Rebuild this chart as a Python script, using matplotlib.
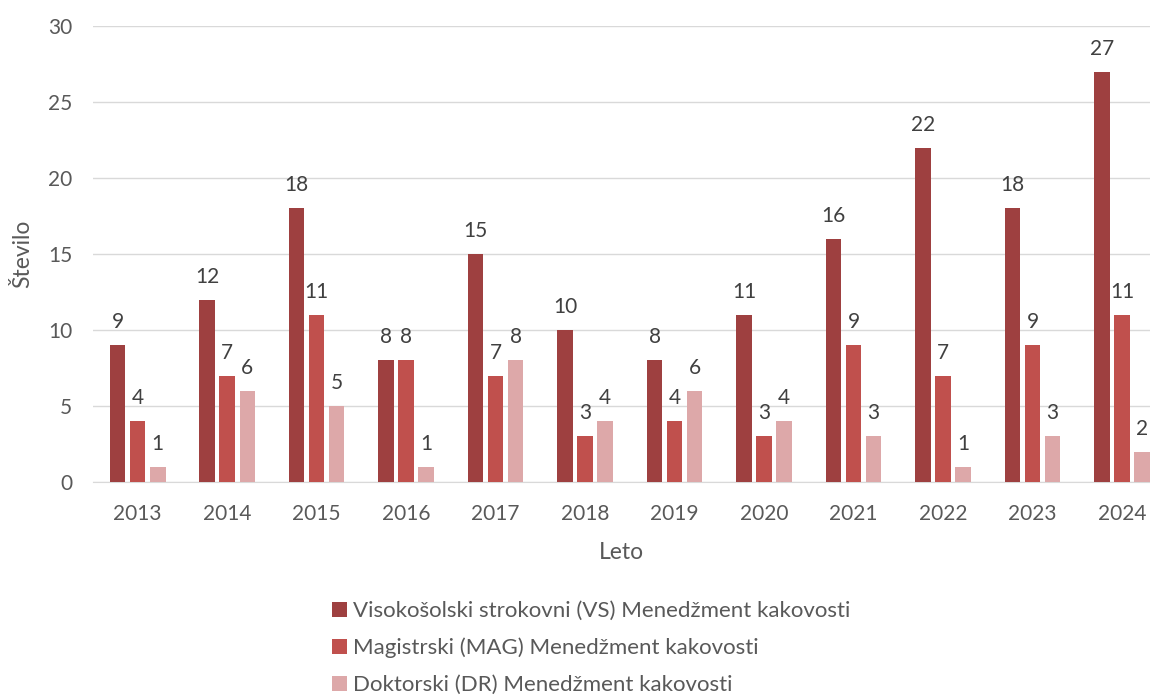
import numpy as np
import matplotlib.pyplot as plt

plt.rcParams['font.family'] = ['Lato', 'DejaVu Sans']

years = ['2013', '2014', '2015', '2016', '2017', '2018',
         '2019', '2020', '2021', '2022', '2023', '2024']
vs = [9, 12, 18, 8, 15, 10, 8, 11, 16, 22, 18, 27]
mag = [4, 7, 11, 8, 7, 3, 4, 3, 9, 7, 9, 11]
dr = [1, 6, 5, 1, 8, 4, 6, 4, 3, 1, 3, 2]

labels = ['Visokošolski strokovni (VS) Menedžment kakovosti',
          'Magistrski (MAG) Menedžment kakovosti',
          'Doktorski (DR) Menedžment kakovosti']
colors = ['#9E4040', '#C0504D', '#DDA8A9']

fig = plt.figure(figsize=(11.5, 6.97), dpi=100)
ax = fig.add_axes([93 / 1150, 215 / 697, (1150 - 93) / 1150, 456 / 697])

x = np.arange(len(years))
w = 0.173
step = 0.224
for i, (vals, c, lab) in enumerate(zip([vs, mag, dr], colors, labels)):
    pos = x + (i - 1) * step
    bars = ax.bar(pos, vals, width=w, color=c, label=lab, zorder=3)
    for b, v in zip(bars, vals):
        ax.text(b.get_x() + b.get_width() / 2, v + 0.85, str(v),
                ha='center', va='bottom', fontsize=15, color='#404040')

ax.set_ylim(0, 30)
ax.set_xlim(-0.5, (1150 - 138) / 89.45)
ax.set_yticks(range(0, 31, 5))
ax.set_xticks(x)
ax.set_xticklabels(years)
ax.yaxis.grid(True, color='#D9D9D9', linewidth=1, zorder=0)
ax.tick_params(axis='both', length=0, labelsize=15, colors='#595959')
ax.tick_params(axis='x', pad=16)
ax.tick_params(axis='y', pad=15)
for s in ['top', 'right', 'left']:
    ax.spines[s].set_visible(False)
ax.spines['bottom'].set_color('#D9D9D9')
ax.set_xlabel('Leto', fontsize=16.5, color='#595959', labelpad=13)
ax.set_ylabel('Število', fontsize=16.5, color='#595959')
ax.yaxis.set_label_coords(-0.057, 0.5)

fig.legend(loc='upper left', bbox_to_anchor=(321 / 1150, 1 - 590 / 697),
           frameon=False, fontsize=16, labelcolor='#595959',
           handlelength=0.65, handleheight=0.65, handletextpad=0.3,
           labelspacing=0.75, borderpad=0)

fig.savefig('out.png', dpi=100)
